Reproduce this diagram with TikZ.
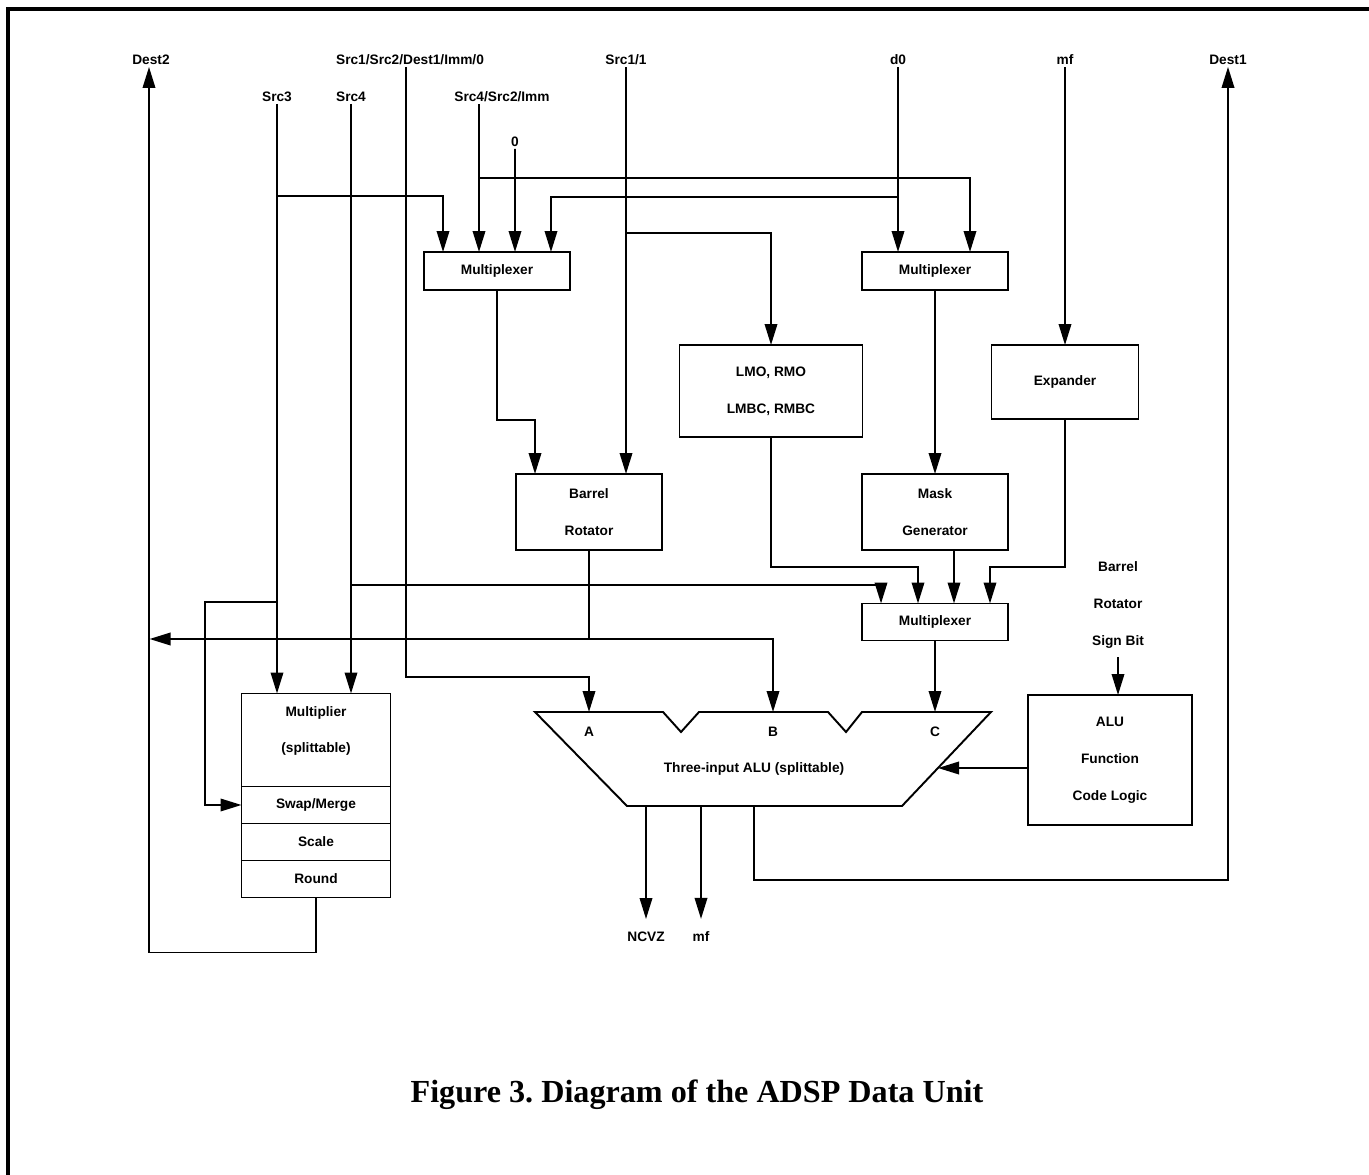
\documentclass[tikz,border=0pt]{standalone}
\usepackage{fontspec}
\setmainfont{Liberation Serif}
\setsansfont{Liberation Sans}
\usetikzlibrary{arrows.meta,positioning}

\begin{document}
\begin{tikzpicture}[x=0.02cm, y=-0.02cm,
    every node/.style={font=\sffamily\bfseries\fontsize{7.8}{21}\selectfont,
      align=center, inner sep=1pt},
    unit/.style={draw, line width=1.1pt, inner sep=0pt, outer sep=0pt},
    mux/.style={unit, minimum width=2.92cm, minimum height=0.76cm},
    slab/.style={unit, minimum width=2.98cm, minimum height=0.74cm},
    bus/.style={line width=1.1pt},
    feed/.style={bus, -{Triangle[length=0.42cm, width=0.25cm]}}
  ]
  \useasboundingbox (0,0) rectangle (1369,1175);
  % page frame
  \draw[line width=2.3pt] (8,1175) -- (8,9) -- (1369,9);

  % bus names
  \node (lDest2) at (151,60) {Dest2};
  \node (lSrcA) at (410,60) {Src1/Src2/Dest1/Imm/0};
  \node (lSrcB) at (626,60) {Src1/1};
  \node (lD0) at (898,60) {d0};
  \node (lMf) at (1065,60) {mf};
  \node (lDest1) at (1228,60) {Dest1};
  \node (lSrc3) at (277,97) {Src3};
  \node (lSrc4) at (351,97) {Src4};
  \node (lSrcC) at (502,97) {Src4/Src2/Imm};
  \node (lZero) at (515,142) {0};

  % units
  \node[mux] (mux1) at (497,271) {Multiplexer};
  \node[mux] (mux2) at (935,271) {Multiplexer};
  \node[unit, minimum width=3.66cm, minimum height=1.84cm] (lmo) at (771,391) {LMO, RMO\\LMBC, RMBC};
  \node[unit, minimum width=2.94cm, minimum height=1.48cm] (expd) at (1065,382) {Expander};
  \node[unit, minimum width=2.92cm, minimum height=1.52cm] (barrel) at (589,512) {Barrel\\Rotator};
  \node[unit, minimum width=2.92cm, minimum height=1.52cm] (mask) at (935,512) {Mask\\Generator};
  \node[mux, minimum height=0.74cm] (mux3) at (935,622) {Multiplexer};
  \node[unit, minimum width=3.28cm, minimum height=2.6cm] (alufn) at (1110,760) {ALU\\Function\\Code Logic};
  \node (sgn) at (1118,605) {Barrel\\Rotator\\Sign Bit};

  % multiplier stack
  \node[unit, minimum width=2.98cm, minimum height=1.86cm] (mult) at (316,740) {};
  \node (multTxt) at (316,731) {Multiplier\\(splittable)};
  \node[slab, below=0pt of mult] (swap) {Swap/Merge};
  \node[slab, below=0pt of swap] (scl) {Scale};
  \node[slab, below=0pt of scl] (rnd) {Round};

  % three-input ALU
  \draw[bus] (535,712) -- (663,712) -- (681,732) -- (699,712) -- (828,712) -- (846,732)
    -- (862,712) -- (991,712) -- (902,806) -- (627,806) -- cycle;
  \coordinate (aluA) at (589,712);
  \coordinate (aluB) at (773,712);
  \coordinate (aluC) at (935,712);
  \coordinate (aluR) at (938,768);
  \coordinate (aluO1) at (646,806);
  \coordinate (aluO2) at (701,806);
  \coordinate (aluO3) at (754,806);
  \node (tA) at (589,732) {A};
  \node (tB) at (773,732) {B};
  \node (tC) at (935,732) {C};
  \node (tAlu) at (754,769) {Three-input ALU (splittable)};
  \node (lNcvz) at (646,937) {NCVZ};
  \node (lMf2) at (701,937) {mf};

  % junctions and bends
  \coordinate (jS3a) at (277,196);
  \coordinate (jS3b) at (277,602);
  \coordinate (jS4) at (351,585);
  \coordinate (jC) at (479,178);
  \coordinate (jD) at (898,197);
  \coordinate (jB) at (626,233);
  \coordinate (jR) at (589,639);
  \coordinate (kR) at (535,420);
  \coordinate (kL) at (918,567);
  \coordinate (kE) at (990,567);

  % source buses
  \draw[feed] (lSrc3.south) -- (lSrc3.south |- mult.north);
  \draw[feed] (jS3a) -| ([xshift=0.38cm]mux1.north west);
  \draw[feed] (jS3b) -- ++(-72,0) |- (swap.west);
  \draw[feed] (lSrc4.south) -- (lSrc4.south |- mult.north);
  \draw[feed] (jS4) -| ([xshift=0.38cm]mux3.north west);
  \draw[feed] ([xshift=-0.08cm]lSrcA.south) |- ([yshift=0.7cm]aluA) -- (aluA);
  \draw[feed] ([xshift=-0.46cm]lSrcC.south) -- ([xshift=-0.36cm]mux1.north);
  \draw[feed] (jC) -| ([xshift=0.7cm]mux2.north);
  \draw[feed] (lZero.south) -- ([xshift=0.36cm]mux1.north);
  \draw[feed] (lD0.south) -- (lD0.south |- mux2.north);
  \draw[feed] (jD) -| ([xshift=-0.38cm]mux1.north east);
  \draw[feed] (lSrcB.south) -- (lSrcB.south |- barrel.north);
  \draw[feed] (jB) -| (lmo.north);
  \draw[feed] (lMf.south) -- (lMf.south |- expd.north);

  % internal paths
  \draw[feed] (mux1.south) |- (kR) -- (kR |- barrel.north);
  \draw[feed] (mux2.south) -- (mask.north);
  \draw[feed] (lmo.south) |- (kL) -- (kL |- mux3.north);
  \draw[feed] ([xshift=0.38cm]mask.south) -- ([xshift=0.38cm]mux3.north);
  \draw[feed] (expd.south) |- (kE) -- (kE |- mux3.north);
  \draw[feed] (mux3.south) -- (aluC);
  \draw[bus] (barrel.south) -- (jR);
  \draw[feed] (jR) -- (jR -| rnd.west) -- ++(-92,0);
  \draw[feed] (jR) -| (aluB);
  \draw[feed] (alufn.west |- aluR) -- (aluR);
  \draw[feed] ([yshift=-0.14cm]sgn.south) -- (sgn.south |- alufn.north);

  % results
  \draw[feed] (aluO1) -- ([yshift=0.22cm]lNcvz.north);
  \draw[feed] (aluO2) -- ([yshift=0.22cm]lMf2.north);
  \draw[feed] (aluO3) -- ++(0,74) -| (lDest1.south);
  \draw[feed] (rnd.south) -- ++(0,55) -| ([xshift=-0.04cm]lDest2.south);

  % caption
  \node[font=\rmfamily\bfseries\fontsize{18.3}{22}\selectfont, anchor=base] (cap)
    at (697,1102) {Figure 3.\ Diagram of the ADSP Data Unit};
\end{tikzpicture}
\end{document}
